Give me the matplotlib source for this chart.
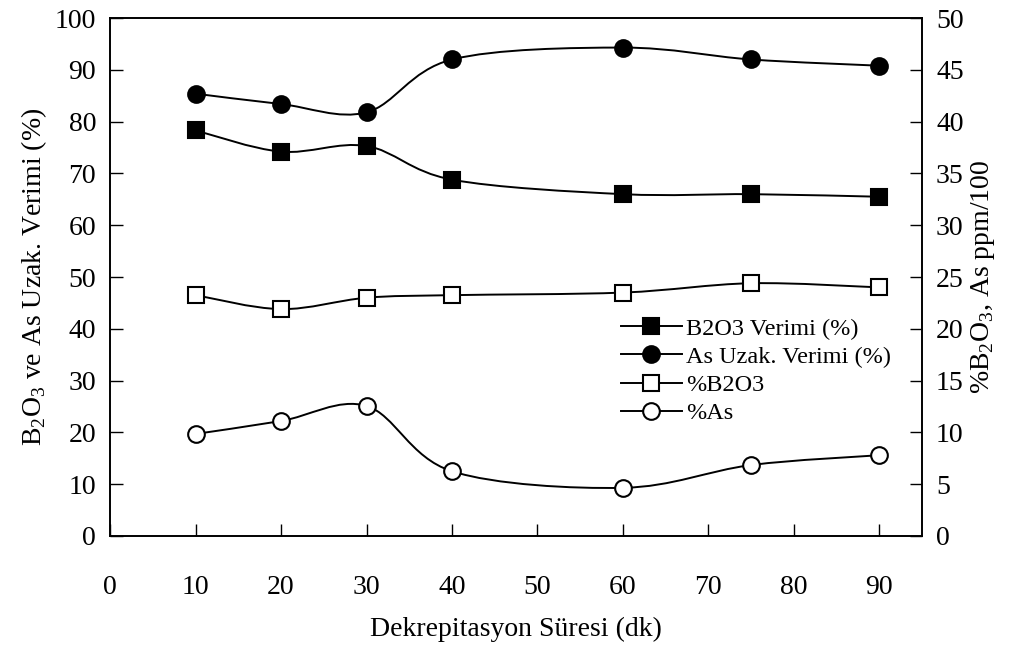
import numpy as np
import matplotlib
matplotlib.use("Agg")
from matplotlib import pyplot as plt
from matplotlib.path import Path
from matplotlib.patches import PathPatch
from matplotlib.lines import Line2D

plt.rcParams['font.family'] = ['Liberation Serif', 'DejaVu Serif']
plt.rcParams['mathtext.fontset'] = 'custom'
plt.rcParams['mathtext.rm'] = 'Liberation Serif'

sure = [10, 20, 30, 40, 60, 75, 90]
b2o3_verimi = [78.3, 74.2, 75.3, 68.8, 66.0, 66.0, 65.5]
as_verimi = [85.4, 83.4, 81.8, 92.0, 94.3, 92.0, 90.8]
yuzde_b2o3 = [23.25, 21.9, 23.0, 23.25, 23.5, 24.4, 24.0]
yuzde_as = [9.85, 11.1, 12.55, 6.25, 4.65, 6.85, 7.8]


def smoothPath(x, y):
    # Excel style smoothed line: cubic bezier through every point
    p = np.column_stack([x, y]).astype(float)
    verts = [p[0]]
    codes = [Path.MOVETO]
    n = len(p)
    for i in range(n - 1):
        prev = p[i - 1] if i > 0 else p[i]
        nxt = p[i + 2] if i + 2 < n else p[i + 1]
        c1 = p[i] + (p[i + 1] - prev) / 6
        c2 = p[i + 1] - (nxt - p[i]) / 6
        verts += [c1, c2, p[i + 1]]
        codes += [Path.CURVE4] * 3
    return Path(verts, codes)


def plotSeries(axes, x, y, marker, face, label):
    size = 11 if marker == "s" else 12
    axes.add_patch(PathPatch(smoothPath(x, y), fill=False, lw=1.4, ec="black", zorder=2))
    axes.plot(x, y, ls="none", marker=marker, ms=size, mfc=face, mec="black", mew=1.5, zorder=3)
    return Line2D([], [], color="black", lw=1.4, marker=marker, ms=size,
                  mfc=face, mec="black", mew=1.5, label=label)


fig = plt.figure(figsize=(10.1, 6.45), dpi=100)
axes = fig.add_axes([0.109, 0.169, 0.804, 0.803])
right = axes.twinx()

handles = [
    plotSeries(axes, sure, b2o3_verimi, "s", "black", "B2O3 Verimi (%)"),
    plotSeries(axes, sure, as_verimi, "o", "black", "As Uzak. Verimi (%)"),
    plotSeries(right, sure, yuzde_b2o3, "s", "white", "%B2O3"),
    plotSeries(right, sure, yuzde_as, "o", "white", "%As"),
]

axes.set_xlim(0, 95)
axes.set_ylim(0, 100)
right.set_ylim(0, 50)
axes.set_xticks(range(0, 91, 10))
axes.set_yticks(range(0, 101, 10))
right.set_yticks(range(0, 51, 5))

for a in (axes, right):
    a.tick_params(direction="in", length=9, width=1, labelsize=20, pad=10)
    for s in a.spines.values():
        s.set_linewidth(1.2)
axes.tick_params(axis="x", pad=28)

axes.set_xlabel("Dekrepitasyon Süresi (dk)", fontsize=20, labelpad=12)
axes.set_ylabel("B$_2$O$_3$ ve As Uzak. Verimi (%)", fontsize=20, labelpad=4)
right.set_ylabel("%B$_2$O$_3$, As ppm/100", fontsize=20, labelpad=4)

right.legend(handles=handles, loc="upper left", bbox_to_anchor=(0.617, 0.44), frameon=False,
             fontsize=17.5, handlelength=2.5, handletextpad=0.2, labelspacing=0.25, borderaxespad=0)

fig.savefig("out.png", dpi=100)
